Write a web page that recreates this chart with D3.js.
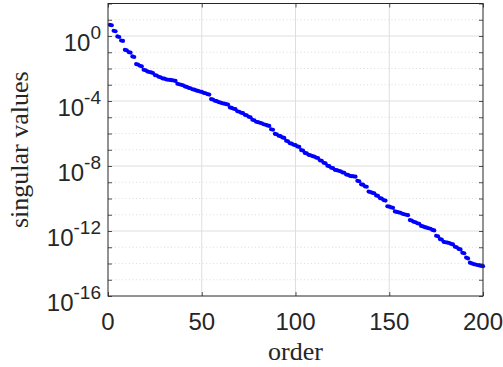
<!DOCTYPE html>
<html>
<head>
<meta charset="utf-8">
<script src="https://cdn.jsdelivr.net/npm/d3@7/dist/d3.min.js"></script>
<style>
  html, body { margin: 0; padding: 0; background: #ffffff; }
  svg { display: block; }
</style>
</head>
<body>
<svg id="chart" width="503" height="367"></svg>
<script>
// ---- data ----
const singularValues = [
  4.9e0, 4.6e0, 2.1e0, 1.96e0, 9.4e-1, 8.7e-1, 5.3e-1, 4.95e-1, 1.42e-1, 1.33e-1,
  1.03e-1, 9.6e-2, 5.5e-2, 5.1e-2, 1.88e-2, 1.75e-2, 1.48e-2, 1.37e-2, 8.4e-3, 7.8e-3,
  6.6e-3, 6.1e-3, 5.7e-3, 5.3e-3, 3.95e-3, 3.7e-3, 3.1e-3, 2.9e-3, 2.5e-3, 2.35e-3,
  2.17e-3, 2.03e-3, 2.0e-3, 1.9e-3, 1.83e-3, 1.72e-3, 1.15e-3, 1.07e-3, 1.0e-3, 9.3e-4,
  7.85e-4, 7.35e-4, 6.5e-4, 6.1e-4, 5.3e-4, 4.95e-4, 4.45e-4, 4.15e-4, 3.85e-4, 3.6e-4,
  3.2e-4, 3.0e-4, 2.67e-4, 2.5e-4, 1.32e-4, 1.23e-4, 1.035e-4, 9.7e-5, 8.6e-5, 8.05e-5,
  7.25e-5, 6.8e-5, 6.5e-5, 6.05e-5, 4.0e-5, 3.75e-5, 3.33e-5, 3.12e-5, 2.34e-5, 2.18e-5,
  1.89e-5, 1.77e-5, 1.42e-5, 1.33e-5, 1.07e-5, 1.0e-5, 7.0e-6, 6.55e-6, 5.3e-6, 4.95e-6,
  4.58e-6, 4.28e-6, 3.7e-6, 3.46e-6, 3.12e-6, 2.92e-6, 1.82e-6, 1.70e-6, 9.6e-7, 9.0e-7,
  7.25e-7, 6.8e-7, 5.7e-7, 5.35e-7, 3.57e-7, 3.34e-7, 2.51e-7, 2.35e-7, 2.03e-7, 1.9e-7,
  1.6e-7, 1.49e-7, 9.55e-8, 8.95e-8, 6.35e-8, 5.95e-8, 4.9e-8, 4.6e-8, 4.1e-8, 3.82e-8,
  3.3e-8, 3.1e-8, 2.25e-8, 2.11e-8, 1.58e-8, 1.48e-8, 1.035e-8, 9.7e-9, 7.8e-9, 7.3e-9,
  5.85e-9, 5.5e-9, 5.1e-9, 4.75e-9, 4.1e-9, 3.85e-9, 3.0e-9, 2.83e-9, 2.5e-9, 2.36e-9,
  2.33e-9, 2.19e-9, 1.23e-9, 1.15e-9, 7.5e-10, 7.05e-10, 5.65e-10, 5.3e-10, 2.67e-10, 2.5e-10,
  2.25e-10, 2.11e-10, 1.54e-10, 1.44e-10, 1.06e-10, 9.95e-11, 8.0e-11, 7.5e-11, 3.33e-11, 3.12e-11,
  2.85e-11, 2.66e-11, 1.6e-11, 1.49e-11, 1.42e-11, 1.33e-11, 1.15e-11, 1.07e-11, 1.0e-11, 9.35e-12,
  4.7e-12, 4.4e-12, 3.7e-12, 3.46e-12, 3.0e-12, 2.8e-12, 2.04e-12, 1.91e-12, 1.72e-12, 1.61e-12,
  1.48e-12, 1.38e-12, 1.16e-12, 1.08e-12, 5.1e-13, 4.75e-13, 3.19e-13, 2.98e-13, 2.17e-13, 2.03e-13,
  1.94e-13, 1.82e-13, 1.6e-13, 1.49e-13, 1.07e-13, 1.0e-13, 7.85e-14, 7.35e-14, 4.6e-14, 4.28e-14,
  2.3e-14, 2.05e-14, 1.12e-14, 1.03e-14, 9.2e-15, 8.7e-15, 8.1e-15, 7.6e-15, 7.2e-15, 6.85e-15
];
const xTicks = [0, 50, 100, 150, 200];
const yMajorExponents = [-16, -12, -8, -4, 0];
const yMinorExponents = [-15, -14, -13, -11, -10, -9, -7, -6, -5, -3, -2, -1, 1];
const xLabel = "order";
const yLabel = "singular values";

// ---- layout ----
const svg = d3.select("#chart");
const L = 108, R = 483, T = 3.5, B = 296;
const axisColor = "#262626";

const x = d3.scaleLinear().domain([0, 200]).range([L, R]);
const y = d3.scaleLog().domain([1e-16, 1e2]).range([B, T]);

svg.append("rect").attr("width", 503).attr("height", 367).attr("fill", "#ffffff");

const g = svg.append("g");

// minor grid (dotted)
g.selectAll(".ygm").data(yMinorExponents).enter().append("line")
  .attr("x1", L).attr("x2", R)
  .attr("y1", d => y(Math.pow(10, d))).attr("y2", d => y(Math.pow(10, d)))
  .attr("stroke", "#c8c8c8").attr("stroke-width", 0.6)
  .attr("stroke-dasharray", "1,2.5");

// major grid (solid)
g.selectAll(".ygM").data(yMajorExponents.filter(e => e > -16)).enter().append("line")
  .attr("x1", L).attr("x2", R)
  .attr("y1", d => y(Math.pow(10, d))).attr("y2", d => y(Math.pow(10, d)))
  .attr("stroke", "#dedede").attr("stroke-width", 1);
g.selectAll(".xg").data(xTicks.filter(t => t > 0 && t < 200)).enter().append("line")
  .attr("y1", T).attr("y2", B)
  .attr("x1", d => x(d)).attr("x2", d => x(d))
  .attr("stroke", "#dedede").attr("stroke-width", 1);

// data points
g.selectAll(".pt").data(singularValues).enter().append("circle")
  .attr("cx", (d, i) => x(i + 1))
  .attr("cy", d => y(d))
  .attr("r", 2.1)
  .attr("fill", "#0000ff");

// axes with d3 axis generators (ticks inside)
const tickLen = 4;
const allDecades = d3.range(-16, 3).map(e => Math.pow(10, e));

function styleAxis(sel) {
  sel.select(".domain").remove();
  sel.selectAll(".tick line").attr("stroke", axisColor).attr("stroke-width", 0.8);
  sel.selectAll(".tick text").remove();
}

g.append("g").attr("transform", `translate(0,${B})`)
  .call(d3.axisBottom(x).tickValues(xTicks).tickSizeInner(-tickLen).tickSizeOuter(0))
  .call(styleAxis);
g.append("g").attr("transform", `translate(0,${T})`)
  .call(d3.axisTop(x).tickValues(xTicks).tickSizeInner(-tickLen).tickSizeOuter(0))
  .call(styleAxis);
g.append("g").attr("transform", `translate(${L},0)`)
  .call(d3.axisLeft(y).tickValues(allDecades).tickSizeInner(-tickLen).tickSizeOuter(0))
  .call(styleAxis);
g.append("g").attr("transform", `translate(${R},0)`)
  .call(d3.axisRight(y).tickValues(allDecades).tickSizeInner(-tickLen).tickSizeOuter(0))
  .call(styleAxis);

// box
g.append("rect").attr("x", L).attr("y", T).attr("width", R - L).attr("height", B - T)
  .attr("fill", "none").attr("stroke", axisColor).attr("stroke-width", 1);

// x tick labels
g.selectAll(".xl").data(xTicks).enter().append("text")
  .attr("x", d => x(d)).attr("y", 330)
  .attr("text-anchor", "middle")
  .attr("font-family", "'Liberation Sans', Arial, sans-serif")
  .attr("font-size", 24).attr("fill", axisColor)
  .text(d => d);

// y tick labels 10^e
yMajorExponents.forEach(e => {
  const yy = y(Math.pow(10, e));
  const t = g.append("text")
    .attr("x", 101).attr("y", yy + 15)
    .attr("text-anchor", "end")
    .attr("font-family", "'Liberation Sans', Arial, sans-serif")
    .attr("fill", axisColor);
  t.append("tspan").attr("font-size", 24).text("10");
  t.append("tspan").attr("font-size", 19).attr("dy", -12).text(String(e));
});

// axis labels
svg.append("text")
  .attr("x", x(100)).attr("y", 360)
  .attr("text-anchor", "middle")
  .attr("font-family", "'Liberation Serif', 'Times New Roman', serif")
  .attr("font-size", 26).attr("fill", axisColor)
  .text(xLabel);

svg.append("text")
  .attr("transform", `translate(28,${(T + B) / 2}) rotate(-90)`)
  .attr("text-anchor", "middle")
  .attr("font-family", "'Liberation Serif', 'Times New Roman', serif")
  .attr("font-size", 26).attr("fill", axisColor)
  .text(yLabel);
</script>
</body>
</html>
